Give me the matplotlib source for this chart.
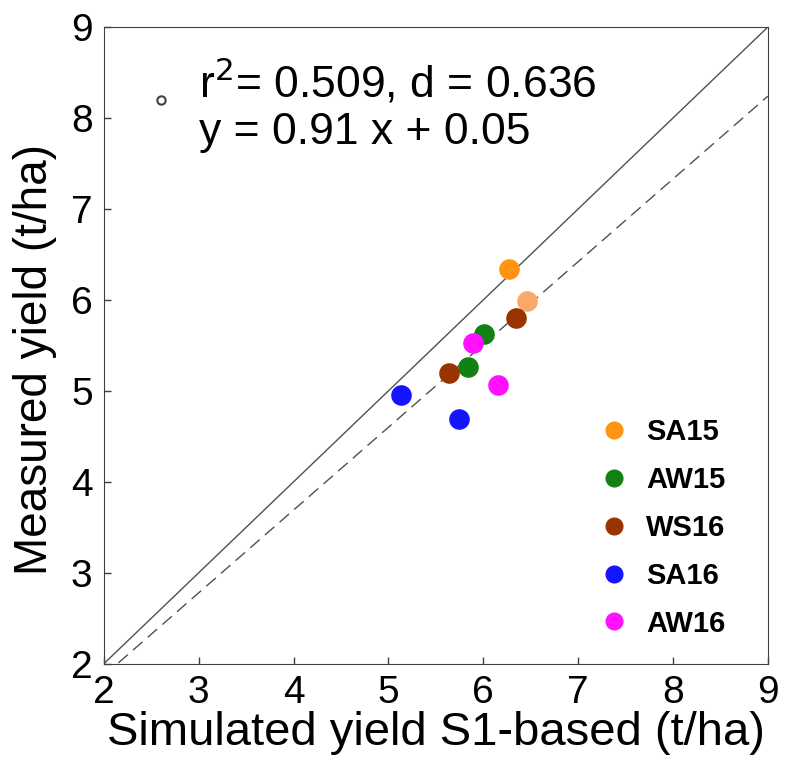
import matplotlib
matplotlib.use("Agg")
import matplotlib.pyplot as plt
import numpy as np
from matplotlib.lines import Line2D

plt.rcParams['font.family'] = ['Liberation Sans', 'DejaVu Sans']

# seasons and points (simulated, measured)
seasons = ["SA15", "AW15", "WS16", "SA16", "AW16"]
colors = ["#FF9410", "#128012", "#993300", "#1414FF", "#FF10FF"]
sim = {
    "SA15": [6.27],
    "AW15": [6.01, 5.84],
    "WS16": [6.34, 5.64],
    "SA16": [5.13, 5.74],
    "AW16": [5.89, 6.16],
}
meas = {
    "SA15": [6.34],
    "AW15": [5.63, 5.26],
    "WS16": [5.80, 5.20],
    "SA16": [4.96, 4.69],
    "AW16": [5.53, 5.06],
}
# extra light-orange point (no legend entry)
extra_sim = [6.46]
extra_meas = [5.99]
extra_color = "#F8A868"

slope, intercept = 0.91, 0.05
r2, d = 0.509, 0.636
ticks = [2, 3, 4, 5, 6, 7, 8, 9]

fig = plt.figure(figsize=(7.86, 7.71), dpi=100)
ax = fig.add_axes([0.132, 0.139, 0.845, 0.826])

xs = np.array([2, 9])
ax.plot(xs, xs, color="#505050", lw=1.0)
ax.plot(xs, slope * xs + intercept, color="#505050", lw=1.0, ls=(0, (9, 5)))

ax.scatter(extra_sim, extra_meas, s=220, color=extra_color, zorder=3, linewidths=0)
for s, c in zip(seasons, colors):
    ax.scatter(sim[s], meas[s], s=220, color=c, zorder=3, linewidths=0)

ax.plot([2.6], [8.2], marker="o", ms=6, mfc="white", mec="#404040", mew=1.5, ls="none")
ax.text(3.0, 8.14, "r$^2$= %.3f, d = %.3f\ny = %.2f x + %.2f" % (r2, d, slope, intercept),
        fontsize=32, va="center", ha="left", linespacing=1.18)

handles = [Line2D([], [], marker="o", ls="none", ms=12, color=c, mec=c) for c in colors]
leg = ax.legend(handles, seasons, loc="lower right", bbox_to_anchor=(0.975, 0.0),
                frameon=False, prop={"weight": "bold", "size": 21},
                labelspacing=0.68, handletextpad=0.5, handlelength=1.2)

ax.set_xlim(2, 9)
ax.set_ylim(2, 9)
ax.set_xticks(ticks)
ax.set_yticks(ticks)
ax.tick_params(direction="in", length=5, width=1, labelsize=28, color="#404040", pad=8)
for sp in ax.spines.values():
    sp.set_color("#404040")
ax.set_xlabel("Simulated yield S1-based (t/ha)", fontsize=34, labelpad=0)
ax.set_ylabel("Measured yield (t/ha)", fontsize=33)
ax.yaxis.set_label_coords(-0.07, 0.478)

fig.savefig("out.png", dpi=100)
